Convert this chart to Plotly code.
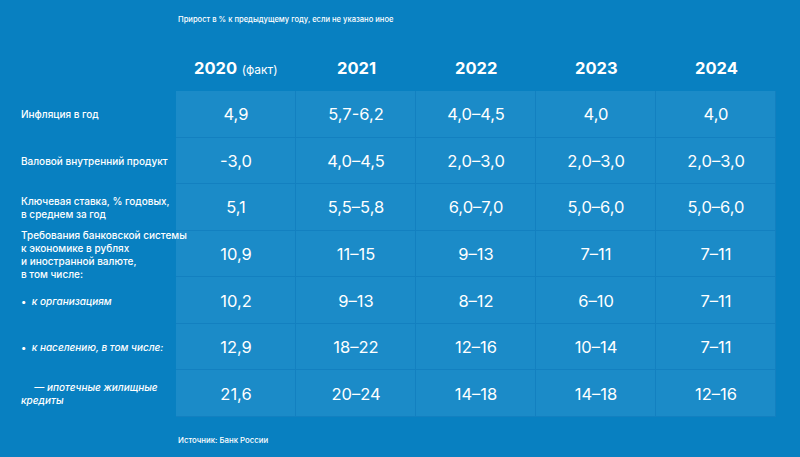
import plotly.graph_objects as go

years = ["2020", "2021", "2022", "2023", "2024"]
year_labels = ["<b>2020</b> <span style='font-size:12px'>(факт)</span>",
               "<b>2021</b>", "<b>2022</b>", "<b>2023</b>", "<b>2024</b>"]

row_labels = [
    "Инфляция в год",
    "Валовой внутренний продукт",
    "Ключевая ставка, % годовых,<br>в среднем за год",
    "Требования банковской системы<br>к экономике в рублях<br>и иностранной валюте,<br>в том числе:",
    "•  <i>к организациям</i>",
    "•  <i>к населению, в том числе:</i>",
    "<i>     — ипотечные жилищные<br>кредиты</i>",
]

inflation = ["4,9", "5,7-6,2", "4,0–4,5", "4,0", "4,0"]
gdp = ["-3,0", "4,0–4,5", "2,0–3,0", "2,0–3,0", "2,0–3,0"]
key_rate = ["5,1", "5,5–5,8", "6,0–7,0", "5,0–6,0", "5,0–6,0"]
bank_claims = ["10,9", "11–15", "9–13", "7–11", "7–11"]
to_companies = ["10,2", "9–13", "8–12", "6–10", "7–11"]
to_households = ["12,9", "18–22", "12–16", "10–14", "7–11"]
mortgages = ["21,6", "20–24", "14–18", "14–18", "12–16"]

rows = [inflation, gdp, key_rate, bank_claims, to_companies, to_households, mortgages]

subtitle = "Прирост в % к предыдущему году, если не указано иное"
source = "Источник: Банк России"

BG = "#0880c1"
CELL = "#1b8bc8"
LINE = "#1380c0"
FONT = "Inter"

row_idx = list(range(len(rows)))
col_idx = list(range(len(years)))

fig = go.Figure(go.Heatmap(
    x=col_idx,
    y=row_idx,
    z=[[0] * len(years) for _ in rows],
    text=rows,
    texttemplate="%{text}",
    textfont=dict(family=FONT, size=16.5, color="white"),
    colorscale=[[0, CELL], [1, CELL]],
    showscale=False,
    xgap=1,
    ygap=1,
    hoverinfo="skip",
))

PLOT_H = 326.0
annotations = []
for i, lab in enumerate(row_labels):
    annotations.append(dict(
        x=(19 - 176) / 600, xref="paper", y=i, yref="y", text=lab, showarrow=False,
        xanchor="left", yanchor="middle", align="left",
        font=dict(family=FONT, size=10, color="white", weight=500),
    ))
for j, lab in zip(col_idx, year_labels):
    annotations.append(dict(
        x=j, xref="x", y=1 + (91 - 68) / PLOT_H, yref="paper", text=lab,
        showarrow=False, xanchor="center", yanchor="middle",
        font=dict(family=FONT, size=16.5, color="white"),
    ))
annotations.append(dict(
    x=0, xref="paper", y=1 + (91 - 20) / PLOT_H, yref="paper", yanchor="middle",
    xanchor="left", text=subtitle, showarrow=False,
    font=dict(family=FONT, size=7.6, color="white", weight=500),
))
annotations.append(dict(
    x=0, xref="paper", y=-(440 - 417) / PLOT_H, yref="paper", yanchor="middle",
    xanchor="left", text=source, showarrow=False,
    font=dict(family=FONT, size=7.8, color="white", weight=500),
))

fig.update_layout(
    width=800, height=457,
    margin=dict(l=176, r=24, t=91, b=40),
    paper_bgcolor=BG,
    plot_bgcolor=LINE,
    xaxis=dict(visible=False, showgrid=False, zeroline=False,
               range=[-0.5, len(years) - 0.5]),
    yaxis=dict(visible=False, showgrid=False, zeroline=False,
               range=[len(rows) - 0.5, -0.5]),
    annotations=annotations,
    showlegend=False,
)

fig.write_html("out.html", config={"displayModeBar": False},
               post_script="document.body.style.margin='0';")
